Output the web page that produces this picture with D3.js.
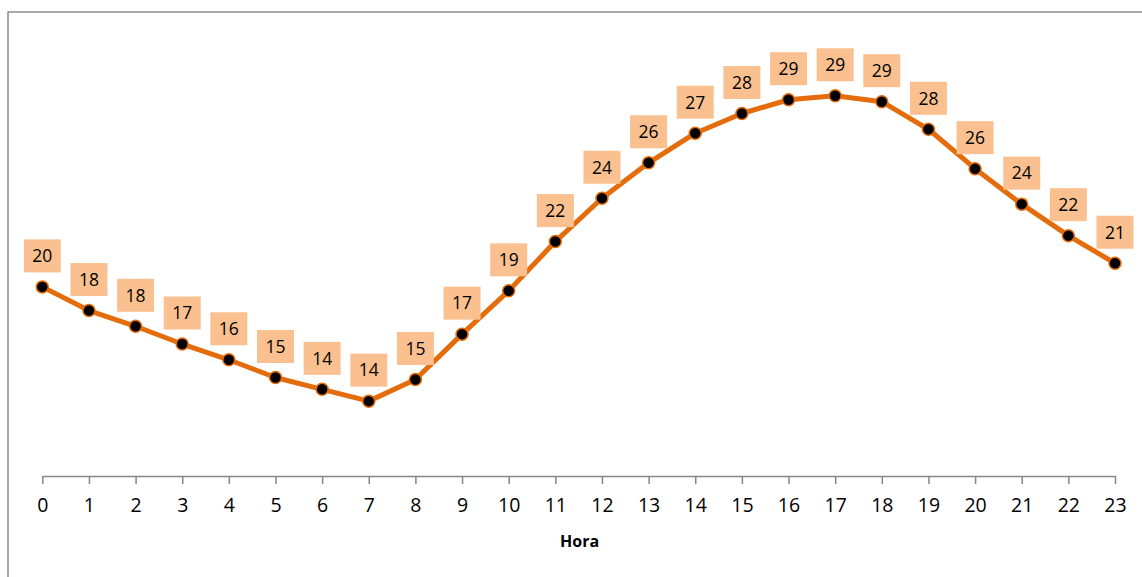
<!DOCTYPE html>
<html>
<head>
<meta charset="utf-8">
<script src="https://cdn.jsdelivr.net/npm/d3@7"></script>
<style>
  html, body { margin: 0; padding: 0; background: #fff; }
  svg { display: block; }
</style>
</head>
<body>
<svg id="chart" width="1142" height="577"></svg>
<script>
const hours = [0,1,2,3,4,5,6,7,8,9,10,11,12,13,14,15,16,17,18,19,20,21,22,23];
const temps = [19.6,18.4,17.6,16.7,15.9,15.0,14.4,13.8,14.9,17.2,19.4,21.9,24.1,25.9,27.4,28.4,29.1,29.3,29.0,27.6,25.6,23.8,22.2,20.8];
const xTitle = "Hora";

const svg = d3.select("#chart");

// outer frame (right/bottom edges fall outside the picture)
svg.append("rect")
  .attr("x", 8).attr("y", 12)
  .attr("width", 1150).attr("height", 600)
  .attr("fill", "none").attr("stroke", "#8c8c8c").attr("stroke-width", 1.5);

const x = d3.scaleLinear().domain([0, 23]).range([42.3, 1115]);
const y = d3.scaleLinear().domain([10, 30]).range([476, 82]);

// x axis
const xAxis = d3.axisBottom(x).tickValues(hours).tickSize(8).tickSizeOuter(0).tickPadding(14);
const gx = svg.append("g").attr("transform", `translate(0,${y(10)})`).call(xAxis);
gx.select(".domain").attr("stroke", "#868686").attr("stroke-width", 1.5);
gx.selectAll(".tick line").attr("stroke", "#868686").attr("stroke-width", 1.5);
gx.selectAll(".tick text")
  .attr("fill", "#000")
  .style("font-family", "'Open Sans', sans-serif")
  .style("font-size", "19.5px");

svg.append("text")
  .attr("x", (x(0) + x(23)) / 2 + 1)
  .attr("y", 547)
  .attr("text-anchor", "middle")
  .style("font-family", "'Open Sans', sans-serif")
  .style("font-size", "16px")
  .style("font-weight", "bold")
  .attr("fill", "#000")
  .text(xTitle);

const data = hours.map((h, i) => ({h, v: temps[i]}));

// line
const line = d3.line().x(d => x(d.h)).y(d => y(d.v));
svg.append("path")
  .datum(data)
  .attr("d", line)
  .attr("fill", "none")
  .attr("stroke", "#E46C0A")
  .attr("stroke-width", 5)
  .attr("stroke-linejoin", "round");

// markers
svg.append("g").selectAll("circle")
  .data(data).join("circle")
  .attr("cx", d => x(d.h)).attr("cy", d => y(d.v))
  .attr("r", 6)
  .attr("fill", "#000")
  .attr("stroke", "#E46C0A")
  .attr("stroke-width", 1.5);

// data labels
const fmt = d3.format(".0f");
const lg = svg.append("g").selectAll("g")
  .data(data).join("g")
  .attr("transform", d => `translate(${x(d.h)},${y(d.v) - 31})`);
lg.append("rect")
  .attr("x", -18.5).attr("y", -16.5)
  .attr("width", 37).attr("height", 33)
  .attr("fill", "#FAC090");
lg.append("text")
  .attr("text-anchor", "middle")
  .attr("dy", "0.36em")
  .style("font-family", "'Open Sans', sans-serif")
  .style("font-size", "17.5px")
  .attr("fill", "#000")
  .text(d => fmt(d.v));
</script>
</body>
</html>
